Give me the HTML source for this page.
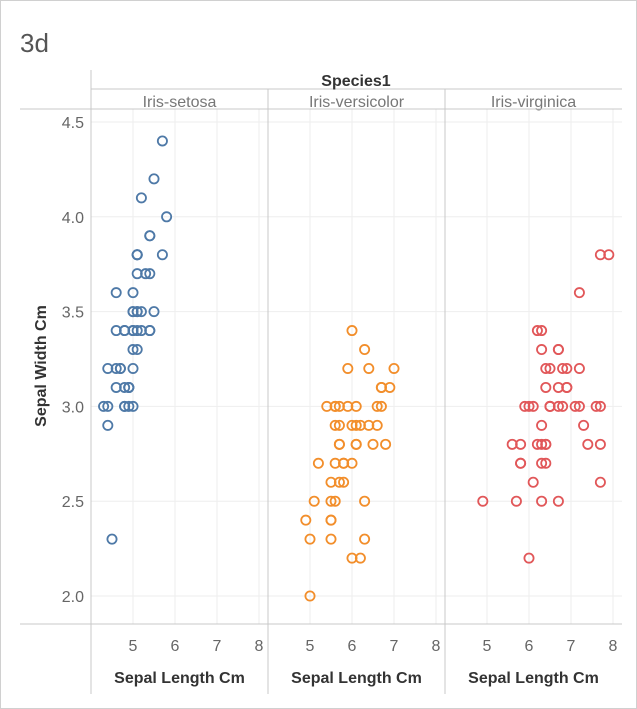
<!DOCTYPE html>
<html><head><meta charset="utf-8">
<style>
html,body{margin:0;padding:0;background:#fff}
svg{display:block;font-family:"Liberation Sans",sans-serif}
</style></head>
<body>
<svg id="c" width="637" height="709" xmlns="http://www.w3.org/2000/svg">
<rect x="0.5" y="0.5" width="636" height="708" fill="#fff" stroke="#d0d0d0"/>
<text x="20" y="52" font-size="26" fill="#555">3d</text>
<g id="grid"></g>
<g id="axes"></g>
<g id="marks"></g>
</svg>
<script>
const species = ["Iris-setosa","Iris-versicolor","Iris-virginica"];
const colors = ["#4e79a7","#f28e2b","#e15759"];
const xTicks = [5,6,7,8];
const yTicks = [2.0,2.5,3.0,3.5,4.0,4.5];
const setosaLen = [5.1,4.9,4.7,4.6,5.0,5.4,4.6,5.0,4.4,4.9,5.4,4.8,4.8,4.3,5.8,5.7,5.4,5.1,5.7,5.1,5.4,5.1,4.6,5.1,4.8,5.0,5.0,5.2,5.2,4.7,4.8,5.4,5.2,5.5,4.9,5.0,5.5,4.9,4.4,5.1,5.0,4.5,4.4,5.0,5.1,4.8,5.1,4.6,5.3,5.0];
const setosaWid = [3.5,3.0,3.2,3.1,3.6,3.9,3.4,3.4,2.9,3.1,3.7,3.4,3.0,3.0,4.0,4.4,3.9,3.5,3.8,3.8,3.4,3.7,3.6,3.3,3.4,3.0,3.4,3.5,3.4,3.2,3.1,3.4,4.1,4.2,3.1,3.2,3.5,3.1,3.0,3.4,3.5,2.3,3.2,3.5,3.8,3.0,3.8,3.2,3.7,3.3];
const versiLen = [7.0,6.4,6.9,5.5,6.5,5.7,6.3,4.9,6.6,5.2,5.0,5.9,6.0,6.1,5.6,6.7,5.6,5.8,6.2,5.6,5.9,6.1,6.3,6.1,6.4,6.6,6.8,6.7,6.0,5.7,5.5,5.5,5.8,6.0,5.4,6.0,6.7,6.3,5.6,5.5,5.5,6.1,5.8,5.0,5.6,5.7,5.7,6.2,5.1,5.7];
const versiWid = [3.2,3.2,3.1,2.3,2.8,2.8,3.3,2.4,2.9,2.7,2.0,3.0,2.2,2.9,2.9,3.1,3.0,2.7,2.2,2.5,3.2,2.8,2.5,2.8,2.9,3.0,2.8,3.0,2.9,2.6,2.4,2.4,2.7,2.7,3.0,3.4,3.1,2.3,3.0,2.5,2.6,3.0,2.6,2.3,2.7,3.0,2.9,2.9,2.5,2.8];
const virgLen = [6.3,5.8,7.1,6.3,6.5,7.6,4.9,7.3,6.7,7.2,6.5,6.4,6.8,5.7,5.8,6.4,6.5,7.7,7.7,6.0,6.9,5.6,7.7,6.3,6.7,7.2,6.2,6.1,6.4,7.2,7.4,7.9,6.4,6.3,6.1,7.7,6.3,6.4,6.0,6.9,6.7,6.9,5.8,6.8,6.7,6.7,6.3,6.5,6.2,5.9];
const virgWid = [3.3,2.7,3.0,2.9,3.0,3.0,2.5,2.9,2.5,3.6,3.2,2.7,3.0,2.5,2.8,3.2,3.0,3.8,2.6,2.2,3.2,2.8,2.8,2.7,3.3,3.2,2.8,3.0,2.8,3.0,2.8,3.8,2.8,2.8,2.6,3.0,3.4,3.1,3.0,3.1,3.1,3.1,2.7,3.2,3.3,3.0,2.5,3.0,3.4,3.0];
const lens=[setosaLen,versiLen,virgLen], wids=[setosaWid,versiWid,virgWid];

const NS="http://www.w3.org/2000/svg";
const panelX=[91,268,445], panelW=177, plotTop=109, plotBottom=624;
function xs(p,v){return panelX[p]+42+(v-5)*42;}
function ys(v){return 122+(4.5-v)*189.6;}
function mk(parent,tag,attrs,text){const e=document.createElementNS(NS,tag);for(const k in attrs)e.setAttribute(k,attrs[k]);if(text!==undefined)e.textContent=text;document.getElementById(parent).appendChild(e);return e;}

yTicks.forEach(t=>{
  const l=mk('grid','line',{x1:91,x2:622,y1:ys(t),y2:ys(t),stroke:'#eeeeee'});
  
  
  const tx=mk('axes','text',{x:84,y:ys(t)+6,'text-anchor':'end','font-size':16,fill:'#666'},t.toFixed(1));
  
  
});
for(let p=0;p<3;p++){
  xTicks.forEach(t=>{
    const l=mk('grid','line',{x1:xs(p,t),x2:xs(p,t),y1:plotTop,y2:plotBottom,stroke:'#eeeeee'});
    
    
    const tx=mk('axes','text',{x:xs(p,t),y:651,'text-anchor':'middle','font-size':16,fill:'#666'},String(t));
    
    
  });
  const h=mk('axes','text',{x:panelX[p]+panelW/2,y:107,'text-anchor':'middle','font-size':16,fill:'#777'},species[p]);
  
  
  const xl=mk('axes','text',{x:panelX[p]+panelW/2,y:683,'text-anchor':'middle','font-size':16,'font-weight':'bold',fill:'#333'},'Sepal Length Cm');
  
  
  if(p>0){
    const v=mk('axes','line',{x1:panelX[p],x2:panelX[p],y1:89,y2:694,stroke:'#c8c8c8'});
    
    
  }
  for(let i=0;i<lens[p].length;i++){
    const c=mk('marks','circle',{cx:xs(p,lens[p][i]),cy:ys(wids[p][i]),r:4.6,fill:'none',stroke:colors[p],'stroke-width':1.8});
    
    
  }
}
[[91,91,70,694],[20,622,109,109],[20,622,624,624],[91,622,89,89]].forEach(a=>{
  const l=mk('axes','line',{x1:a[0],x2:a[1],y1:a[2],y2:a[3],stroke:'#c8c8c8'});
  
  
});
const sp=mk('axes','text',{x:356,y:86,'text-anchor':'middle','font-size':16,'font-weight':'bold',fill:'#333'},'Species1');


const yt=mk('axes','text',{x:46,y:366,'text-anchor':'middle','font-size':16,'font-weight':'bold',fill:'#333',transform:'rotate(-90 46 366)'},'Sepal Width Cm');


</script>
</body></html>
